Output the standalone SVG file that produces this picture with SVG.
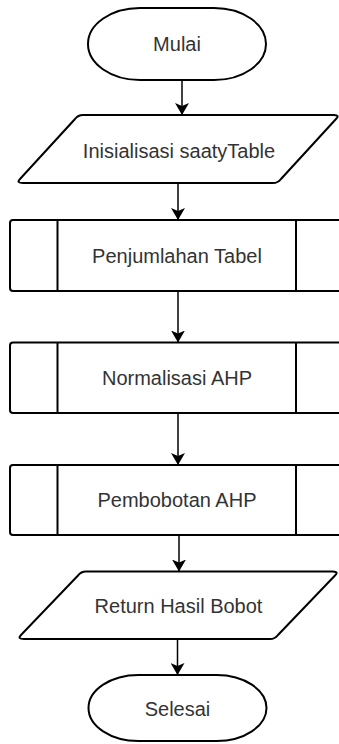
<svg xmlns="http://www.w3.org/2000/svg" width="339" height="744" viewBox="0 0 339 744">
  <style>
    .shape { fill: #ffffff; stroke: #000000; stroke-width: 2; }
    .line { fill: none; stroke: #000000; stroke-width: 2; }
    .edge { fill: none; stroke: #000000; stroke-width: 1.5; }
    .label { font-family: "Liberation Sans", Arial, sans-serif; font-size: 20px; fill: #333333; text-anchor: middle; dominant-baseline: central; }
  </style>
  <defs>
    <marker id="arrow" viewBox="0 0 12 14" refX="12" refY="7" markerWidth="12" markerHeight="14" markerUnits="userSpaceOnUse" orient="auto">
      <path d="M0,0 L12,7 L0,14 L3,7 Z" fill="#000000"/>
    </marker>
  </defs>
  <rect width="339" height="744" fill="#ffffff"/>

  <g id="connectors">
    <line class="edge" x1="182" y1="80" x2="182" y2="115" marker-end="url(#arrow)"/>
    <line class="edge" x1="178" y1="183" x2="178" y2="220" marker-end="url(#arrow)"/>
    <line class="edge" x1="178" y1="291" x2="178" y2="342.5" marker-end="url(#arrow)"/>
    <line class="edge" x1="178" y1="413" x2="178" y2="465" marker-end="url(#arrow)"/>
    <line class="edge" x1="179" y1="535" x2="179" y2="571.5" marker-end="url(#arrow)"/>
    <line class="edge" x1="177.5" y1="639" x2="177.5" y2="675" marker-end="url(#arrow)"/>
  </g>

  <g id="mulai">
    <rect class="shape" x="88" y="8" width="178" height="72" rx="52" ry="36"/>
    <text class="label" x="177" y="44">Mulai</text>
  </g>

  <g id="inisialisasi">
    <path class="shape" d="M83,115 L334,115 Q340,115 336,119 L281,179 Q278,183 273,183 L23,183 Q16,183 20,179 L75,119 Q78,115 83,115 Z"/>
    <text class="label" x="179" y="151">Inisialisasi saatyTable</text>
  </g>

  <g id="penjumlahan">
    <path class="shape" d="M344,220 L13,220 Q10,220 10,223 L10,288 Q10,291 13,291 L344,291"/>
    <line class="line" x1="57.5" y1="220" x2="57.5" y2="291"/>
    <line class="line" x1="296" y1="220" x2="296" y2="291"/>
    <text class="label" x="177" y="256">Penjumlahan Tabel</text>
  </g>

  <g id="normalisasi">
    <path class="shape" d="M344,342.5 L13,342.5 Q10,342.5 10,345.5 L10,410 Q10,413 13,413 L344,413"/>
    <line class="line" x1="57.5" y1="342.5" x2="57.5" y2="413"/>
    <line class="line" x1="296" y1="342.5" x2="296" y2="413"/>
    <text class="label" x="177" y="378">Normalisasi AHP</text>
  </g>

  <g id="pembobotan">
    <path class="shape" d="M344,465 L13,465 Q10,465 10,468 L10,532 Q10,535 13,535 L344,535"/>
    <line class="line" x1="57.5" y1="465" x2="57.5" y2="535"/>
    <line class="line" x1="296" y1="465" x2="296" y2="535"/>
    <text class="label" x="177" y="500">Pembobotan AHP</text>
  </g>

  <g id="return">
    <path class="shape" d="M86,571.5 L333,571.5 Q339,571.5 335,575.5 L278,635 Q275,639 270,639 L24,639 Q17,639 21,635 L78,575.5 Q81,571.5 86,571.5 Z"/>
    <text class="label" x="178.5" y="606">Return Hasil Bobot</text>
  </g>

  <g id="selesai">
    <rect class="shape" x="88.5" y="675" width="178" height="66" rx="50" ry="33"/>
    <text class="label" x="177.5" y="709">Selesai</text>
  </g>
</svg>
